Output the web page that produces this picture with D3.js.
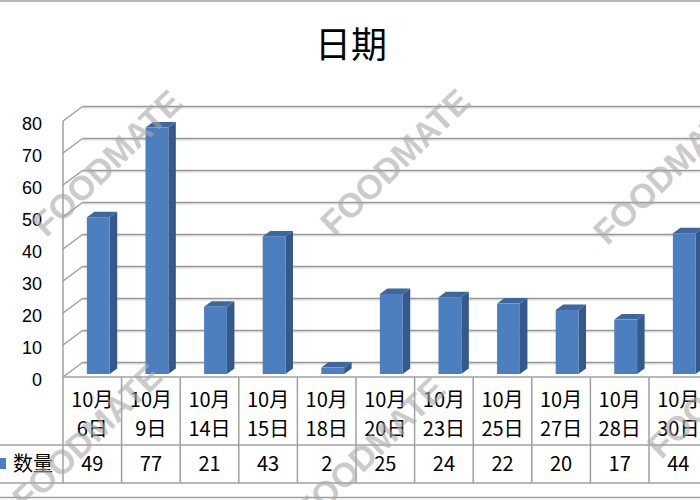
<!DOCTYPE html>
<html>
<head>
<meta charset="utf-8">
<script src="https://cdn.jsdelivr.net/npm/d3@7/dist/d3.min.js"></script>
<style>
  html, body { margin: 0; padding: 0; background: #fff; }
  svg { display: block; }
</style>
</head>
<body>
<svg id="chart" width="700" height="500"></svg>
<script>
const title = "日期";
const seriesName = "数量";
const catTop = ["10月","10月","10月","10月","10月","10月","10月","10月","10月","10月","10月"];
const catBottom = ["6日","9日","14日","15日","18日","20日","23日","25日","27日","28日","30日"];
const values = [49, 77, 21, 43, 2, 25, 24, 22, 20, 17, 44];
const yTicks = [0, 10, 20, 30, 40, 50, 60, 70, 80];
const watermark = "FOODMATE";

const svg = d3.select("#chart");
const W = 700, H = 500;
const cats = catBottom.map((d, i) => catTop[i] + d);

const x0 = 63, colW = 58.6;
const x = d3.scaleBand().domain(cats).range([x0, x0 + colW * cats.length]).padding(0);
const y = d3.scaleLinear().domain([0, 80]).range([377, 121]);
const dX = 19.5, dY = -14.5;           // back wall offset
const gridCol = "#9a9a9a";

// chart border lines
svg.append("line").attr("x1", 0).attr("x2", W).attr("y1", 1).attr("y2", 1)
  .attr("stroke", "#a0a0a0").attr("stroke-width", 1.5);
svg.append("line").attr("x1", 0).attr("x2", W).attr("y1", 497.5).attr("y2", 497.5)
  .attr("stroke", "#a0a0a0").attr("stroke-width", 1.5);

// title
svg.append("text").attr("x", 351).attr("y", 58).attr("text-anchor", "middle")
  .attr("font-family", "'Noto Sans CJK SC', sans-serif").attr("font-size", 36)
  .attr("fill", "#000").text(title);

// gridlines (back wall + left wall diagonals)
const g = svg.append("g");
yTicks.forEach(v => {
  const yy = y(v);
  g.append("line").attr("x1", x0 + dX).attr("x2", W + 10)
    .attr("y1", yy + dY + 1.4).attr("y2", yy + dY + 1.4)
    .attr("stroke", "#dcdcdc").attr("stroke-width", 1.2);
  g.append("line").attr("x1", x0 + dX).attr("x2", W + 10)
    .attr("y1", yy + dY).attr("y2", yy + dY)
    .attr("stroke", gridCol).attr("stroke-width", 1.4);
  g.append("line").attr("x1", x0).attr("x2", x0 + dX)
    .attr("y1", yy).attr("y2", yy + dY)
    .attr("stroke", gridCol).attr("stroke-width", 1.4);
});
// front vertical axis line
g.append("line").attr("x1", x0).attr("x2", x0).attr("y1", y(80)).attr("y2", 483)
  .attr("stroke", gridCol).attr("stroke-width", 1.4);

// y tick labels
svg.append("g").selectAll("text").data(yTicks).join("text")
  .attr("x", 42).attr("y", d => y(d) + 3).attr("dy", "0.36em")
  .attr("text-anchor", "end")
  .attr("font-family", "'Liberation Sans', Arial, sans-serif").attr("font-size", 18)
  .attr("fill", "#000").text(d => d);

// bars (3D)
const bw = colW * 0.39, shiftX = 6, shiftY = -3, bdx = 7.5, bdy = -5.5;
const bars = svg.append("g");
values.forEach((v, i) => {
  const c = cats[i];
  const xl = x(c) + x.bandwidth() / 2 + shiftX - bw / 2;
  const xr = xl + bw;
  const yb = y(0) + shiftY;
  const yt = y(v) + shiftY;
  // side
  bars.append("path")
    .attr("d", `M${xr},${yb} L${xr + bdx},${yb + bdy} L${xr + bdx},${yt + bdy} L${xr},${yt} Z`)
    .attr("fill", "#34598a");
  // top
  bars.append("path")
    .attr("d", `M${xl},${yt} L${xl + bdx},${yt + bdy} L${xr + bdx},${yt + bdy} L${xr},${yt} Z`)
    .attr("fill", "#3e679b");
  // front
  bars.append("rect").attr("x", xl).attr("y", yt).attr("width", bw).attr("height", yb - yt)
    .attr("fill", "#4d7fbe");
});

// data table
const t = svg.append("g");
const lineCol = "#a0a0a0";
t.append("line").attr("x1", x0).attr("x2", W).attr("y1", 377).attr("y2", 377)
  .attr("stroke", lineCol).attr("stroke-width", 1.5);
[445, 483].forEach(yy => {
  t.append("line").attr("x1", 0).attr("x2", W).attr("y1", yy).attr("y2", yy)
    .attr("stroke", lineCol).attr("stroke-width", 1.5);
});
cats.forEach((c, i) => {
  t.append("line").attr("x1", x(c) + colW).attr("x2", x(c) + colW)
    .attr("y1", 377).attr("y2", 483).attr("stroke", lineCol).attr("stroke-width", 1.5);
});
const tf = "'Noto Sans CJK SC', sans-serif";
t.selectAll("text.c1").data(cats).join("text").attr("class", "c1")
  .attr("x", d => x(d) + colW / 2).attr("y", 400).attr("dy", "0.36em")
  .attr("text-anchor", "middle").attr("font-family", tf).attr("font-size", 20)
  .text((d, i) => catTop[i]);
t.selectAll("text.c2").data(cats).join("text").attr("class", "c2")
  .attr("x", d => x(d) + colW / 2).attr("y", 429).attr("dy", "0.36em")
  .attr("text-anchor", "middle").attr("font-family", tf).attr("font-size", 20)
  .text((d, i) => catBottom[i]);
t.selectAll("text.v").data(values).join("text").attr("class", "v")
  .attr("x", (d, i) => x(cats[i]) + colW / 2).attr("y", 464).attr("dy", "0.36em")
  .attr("text-anchor", "middle").attr("font-family", tf).attr("font-size", 20)
  .text(d => d);
// legend key
t.append("rect").attr("x", -5).attr("y", 458).attr("width", 11).attr("height", 11).attr("fill", "#4d7fbe");
t.append("text").attr("x", 13).attr("y", 464).attr("dy", "0.36em")
  .attr("font-family", tf).attr("font-size", 20).text(seriesName);

// watermarks
const wmPos = [[107, 163], [395, 162], [668, 171], [87, 437], [370, 450], [722, 385]];
svg.append("g").selectAll("text").data(wmPos).join("text")
  .attr("transform", d => `translate(${d[0]},${d[1]}) rotate(-44)`)
  .attr("text-anchor", "middle").attr("dy", "0.35em")
  .attr("font-family", "'Liberation Sans', Arial, sans-serif").attr("font-weight", "bold")
  .attr("font-size", 34).attr("fill", "#a8a8a8").attr("fill-opacity", 0.6)
  .text(watermark);
</script>
</body>
</html>
